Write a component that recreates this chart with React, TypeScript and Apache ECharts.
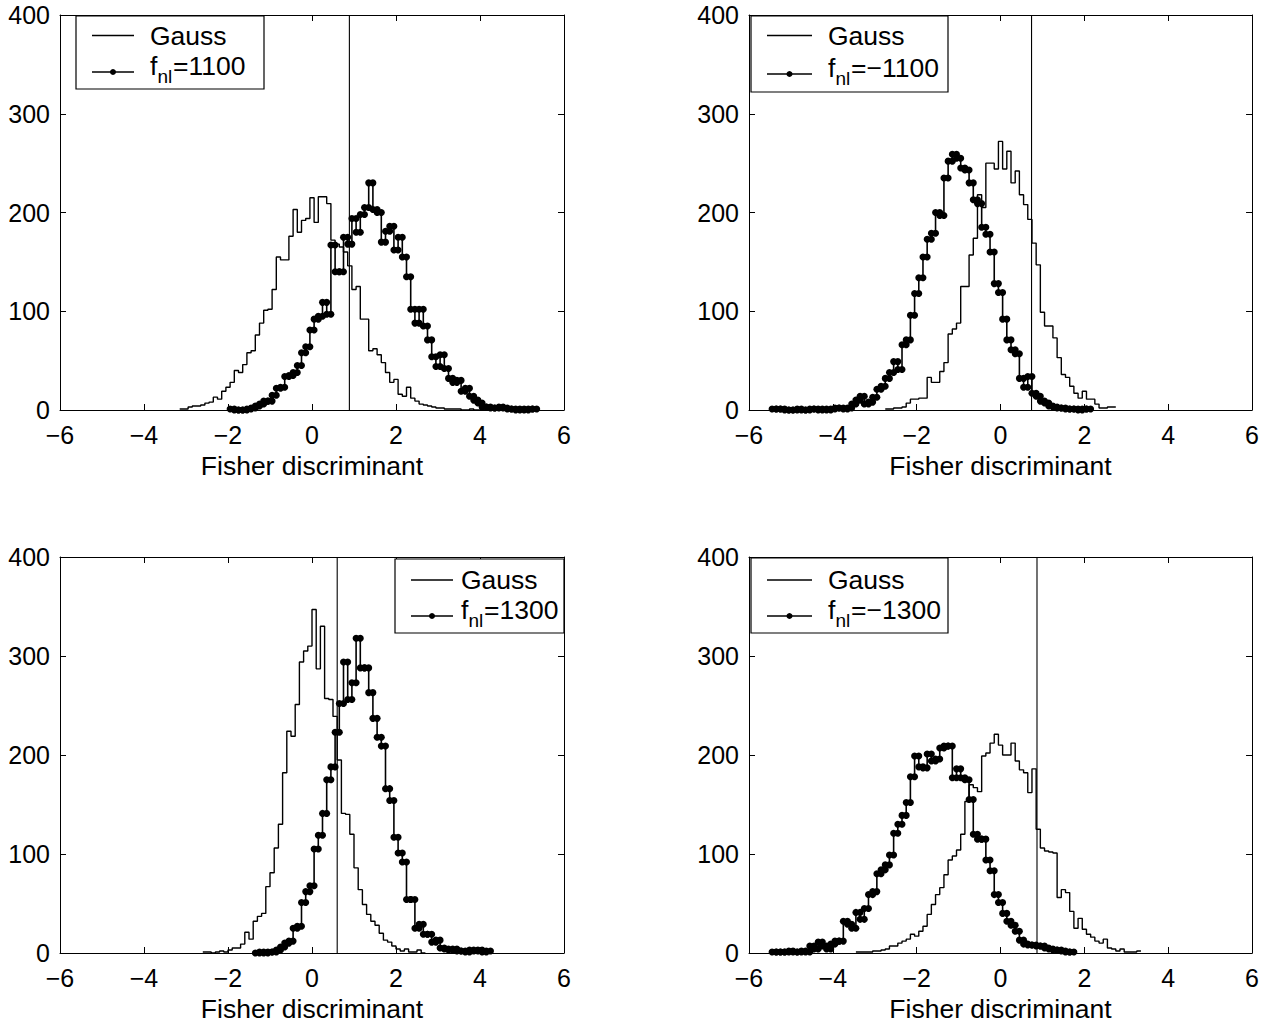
import React, { useEffect, useRef } from "react";
import * as echarts from "echarts";

// ---------- data (bin counts, bin width 0.1) ----------
const BIN = 0.1;
const xTicks = [-6, -4, -2, 0, 2, 4, 6];
const yTicks = [0, 100, 200, 300, 400];
const xTitle = "Fisher discriminant";
const fnlLabels = ["=1100", "=\u22121100", "=1300", "=\u22121300"];
const thresholds = [0.89, 0.74, 0.6, 0.87];

// panel 1 : Gauss vs fnl = 1100
const gauss1Start = -3.1;
const gauss1 = [
  1, 1, 3, 4, 4, 5, 7, 8, 13, 11, 19, 23, 28, 40, 38, 46, 58, 60, 76, 88, 101, 102, 122, 155, 152, 152, 176, 203, 180, 192, 194,
  215, 190, 216, 216, 209, 172, 168, 165, 160, 146, 122, 125, 92, 92, 60, 62, 56, 48, 38, 28, 31, 16, 14, 23, 12, 9, 6, 5, 4, 3,
  2, 2, 1, 1, 1, 1, 0, 0, 1, 0, 0,
];
const fnl1Start = -1.9;
const fnl1 = [
  1, 0, 0, 0, 1, 2, 4, 6, 9, 9, 15, 22, 23, 34, 35, 38, 45, 58, 64, 81, 92, 95, 109, 97, 167, 140, 140, 175, 168, 194, 180, 198,
  205, 230, 203, 200, 170, 181, 186, 162, 175, 155, 135, 102, 88, 102, 85, 71, 54, 44, 56, 42, 32, 28, 30, 19, 22, 14, 10, 7, 3,
  3, 2, 2, 3, 2, 1, 1, 0, 1, 0, 1, 1,
];

// panel 2 : Gauss vs fnl = -1100
const gauss2Start = -2.7;
const gauss2 = [
  1, 1, 2, 2, 3, 7, 11, 11, 12, 12, 33, 28, 28, 39, 48, 77, 82, 88, 125, 125, 157, 174, 218, 205, 250, 250, 244, 272, 244, 262,
  230, 242, 218, 208, 193, 169, 147, 99, 85, 85, 73, 53, 36, 33, 24, 17, 12, 19, 11, 11, 6, 2, 2, 3, 3,
];
const fnl2Start = -5.4;
const fnl2 = [
  1, 1, 1, 0, 0, 0, 1, 0, 0, 1, 1, 0, 1, 0, 1, 2, 2, 1, 2, 6, 10, 14, 6, 8, 13, 21, 24, 32, 38, 49, 41, 66, 71, 96, 118, 134, 155,
  173, 179, 200, 197, 235, 252, 259, 255, 245, 243, 230, 213, 209, 185, 178, 160, 128, 119, 92, 71, 61, 57, 32, 23, 34, 17, 14, 9,
  7, 4, 3, 2, 2, 1, 1, 1, 0, 1, 1,
];

// panel 3 : Gauss vs fnl = 1300
const gauss3Start = -2.55;
const gauss3 = [
  1, 1, 0, 1, 2, 1, 3, 5, 5, 9, 21, 14, 32, 37, 40, 67, 81, 106, 130, 182, 224, 219, 251, 294, 305, 310, 347, 287, 330, 257, 256,
  239, 195, 141, 140, 120, 86, 64, 49, 39, 32, 28, 20, 13, 11, 7, 4, 2, 4, 1, 1, 3, 0,
];
const fnl3Start = -1.3;
const fnl3 = [
  0, 1, 0, 1, 1, 3, 6, 10, 12, 25, 27, 51, 62, 68, 105, 119, 141, 175, 188, 223, 252, 294, 256, 273, 318, 288, 288, 263, 237, 218,
  209, 166, 154, 117, 101, 92, 54, 54, 25, 29, 19, 19, 11, 13, 5, 4, 3, 4, 2, 2, 1, 3, 2, 3, 1, 2,
];

// panel 4 : Gauss vs fnl = -1300
const gauss4Start = -3.4;
const gauss4 = [
  1, 1, 1, 1, 2, 2, 3, 4, 7, 7, 10, 12, 14, 19, 17, 22, 27, 39, 49, 59, 66, 79, 94, 98, 104, 120, 153, 170, 167, 163, 199, 202, 212,
  221, 210, 200, 200, 212, 194, 185, 182, 162, 186, 125, 106, 103, 102, 101, 56, 64, 61, 42, 25, 35, 24, 19, 16, 12, 10, 14, 5, 4,
  2, 4, 1, 1, 1, 2,
];
const fnl4Start = -5.4;
const fnl4 = [
  1, 1, 1, 1, 2, 1, 1, 2, 1, 7, 4, 11, 7, 4, 9, 12, 12, 32, 29, 25, 41, 34, 45, 59, 62, 80, 84, 89, 99, 121, 130, 139, 152, 178,
  199, 188, 187, 201, 194, 196, 207, 209, 209, 177, 186, 177, 175, 155, 120, 115, 115, 94, 83, 59, 51, 40, 32, 28, 22, 13, 9, 8, 8,
  7, 7, 5, 4, 3, 3, 2, 1, 1,
];

const gaussSets = [
  { start: gauss1Start, vals: gauss1 },
  { start: gauss2Start, vals: gauss2 },
  { start: gauss3Start, vals: gauss3 },
  { start: gauss4Start, vals: gauss4 },
];
const fnlSets = [
  { start: fnl1Start, vals: fnl1 },
  { start: fnl2Start, vals: fnl2 },
  { start: fnl3Start, vals: fnl3 },
  { start: fnl4Start, vals: fnl4 },
];

// ---------- layout ----------
const FONT = "'Liberation Sans', Arial, Helvetica, sans-serif";
const FS = 25;
const FS_BIG = 26.5;
const grids = [
  { left: 60, top: 15, width: 504, height: 395 },
  { left: 749, top: 15, width: 504, height: 395 },
  { left: 60, top: 557, width: 504, height: 397 },
  { left: 749, top: 557, width: 504, height: 397 },
];
const legends = [
  { box: [76, 16, 188, 73], lx: [92, 134], y1: 35.5, y2: 72, tx: 150 },
  { box: [751, 16, 197, 76], lx: [767, 812], y1: 35.5, y2: 74, tx: 828 },
  { box: [395, 559, 169, 74], lx: [411, 453], y1: 580, y2: 616, tx: 461 },
  { box: [751, 558, 197, 75], lx: [767, 812], y1: 580, y2: 616, tx: 828 },
];

function stairs(start: number, vals: number[]) {
  const pts: number[][] = [];
  vals.forEach((v, i) => {
    const c = start + i * BIN;
    pts.push([+(c - BIN / 2).toFixed(3), v]);
    pts.push([+(c + BIN / 2).toFixed(3), v]);
  });
  return pts;
}

const fmt = (v: number) => String(v).replace("-", "\u2212");

function buildOption() {
  const xAxis: any[] = [];
  const yAxis: any[] = [];
  const series: any[] = [];
  const graphic: any[] = [];
  grids.forEach((g, i) => {
    const tick = { show: true, inside: true, length: 6, lineStyle: { color: "#000", width: 1 } };
    const line = { show: true, onZero: false, lineStyle: { color: "#000", width: 1 } };
    xAxis.push({
      type: "value", gridIndex: i, position: "bottom", min: xTicks[0], max: xTicks[xTicks.length - 1], interval: 2,
      axisLine: line, axisTick: tick, splitLine: { show: false },
      axisLabel: { color: "#000", fontSize: FS, fontFamily: FONT, margin: 12, formatter: fmt },
      name: xTitle, nameLocation: "middle", nameGap: 42,
      nameTextStyle: { color: "#000", fontSize: FS_BIG, fontFamily: FONT },
    });
    xAxis.push({
      type: "value", gridIndex: i, position: "top", min: xTicks[0], max: xTicks[xTicks.length - 1], interval: 2,
      axisLine: line, axisTick: tick, splitLine: { show: false }, axisLabel: { show: false },
    });
    yAxis.push({
      type: "value", gridIndex: i, position: "left", min: yTicks[0], max: yTicks[yTicks.length - 1], interval: 100,
      axisLine: line, axisTick: tick, splitLine: { show: false },
      axisLabel: { color: "#000", fontSize: FS, fontFamily: FONT, margin: 10 },
    });
    yAxis.push({
      type: "value", gridIndex: i, position: "right", min: yTicks[0], max: yTicks[yTicks.length - 1], interval: 100,
      axisLine: line, axisTick: tick, splitLine: { show: false }, axisLabel: { show: false },
    });
    series.push({
      type: "line", xAxisIndex: 2 * i, yAxisIndex: 2 * i, data: stairs(gaussSets[i].start, gaussSets[i].vals),
      showSymbol: false, lineStyle: { color: "#000", width: 1.4 }, silent: true,
    });
    series.push({
      type: "line", xAxisIndex: 2 * i, yAxisIndex: 2 * i, data: stairs(fnlSets[i].start, fnlSets[i].vals),
      showSymbol: true, symbol: "circle", symbolSize: 7, itemStyle: { color: "#000" },
      lineStyle: { color: "#000", width: 1.6 }, silent: true,
    });
    series.push({
      type: "line", xAxisIndex: 2 * i, yAxisIndex: 2 * i,
      data: [[thresholds[i], yTicks[0]], [thresholds[i], yTicks[yTicks.length - 1]]],
      showSymbol: false, lineStyle: { color: "#000", width: 1.1 }, silent: true,
    });
    const L = legends[i];
    const [bx, by, bw, bh] = L.box;
    graphic.push(
      { type: "rect", z: 100, shape: { x: bx, y: by, width: bw, height: bh }, style: { fill: "#fff", stroke: "#000", lineWidth: 1.2 } },
      { type: "line", z: 101, shape: { x1: L.lx[0], y1: L.y1, x2: L.lx[1], y2: L.y1 }, style: { stroke: "#000", lineWidth: 1.3 } },
      { type: "line", z: 101, shape: { x1: L.lx[0], y1: L.y2, x2: L.lx[1], y2: L.y2 }, style: { stroke: "#000", lineWidth: 1.5 } },
      { type: "circle", z: 102, shape: { cx: (L.lx[0] + L.lx[1]) / 2, cy: L.y2, r: 3 }, style: { fill: "#000" } },
      { type: "text", z: 102, x: L.tx, y: L.y1, style: { text: "Gauss", fontSize: FS_BIG, fontFamily: FONT, fill: "#000", verticalAlign: "middle" } },
      { type: "text", z: 102, x: L.tx, y: L.y2 - 6, style: { text: "f", fontSize: FS_BIG, fontFamily: FONT, fill: "#000", verticalAlign: "middle" } },
      { type: "text", z: 102, x: L.tx + 7.5, y: L.y2 + 4, style: { text: "nl", fontSize: 19, fontFamily: FONT, fill: "#000", verticalAlign: "middle" } },
      { type: "text", z: 102, x: L.tx + 23, y: L.y2 - 6, style: { text: fnlLabels[i], fontSize: FS_BIG, fontFamily: FONT, fill: "#000", verticalAlign: "middle" } },
    );
  });
  return {
    animation: false,
    backgroundColor: "#fff",
    grid: grids.map((g) => ({ ...g, containLabel: false })),
    xAxis,
    yAxis,
    series,
    graphic,
  };
}

export default function App() {
  const ref = useRef<HTMLDivElement>(null);
  useEffect(() => {
    if (!ref.current) return;
    const chart = echarts.init(ref.current, undefined, { renderer: "svg" });
    chart.setOption(buildOption() as any);
    return () => chart.dispose();
  }, []);
  return <div ref={ref} style={{ position: "fixed", left: 0, top: 0, width: 1262, height: 1023, background: "#fff" }} />;
}
